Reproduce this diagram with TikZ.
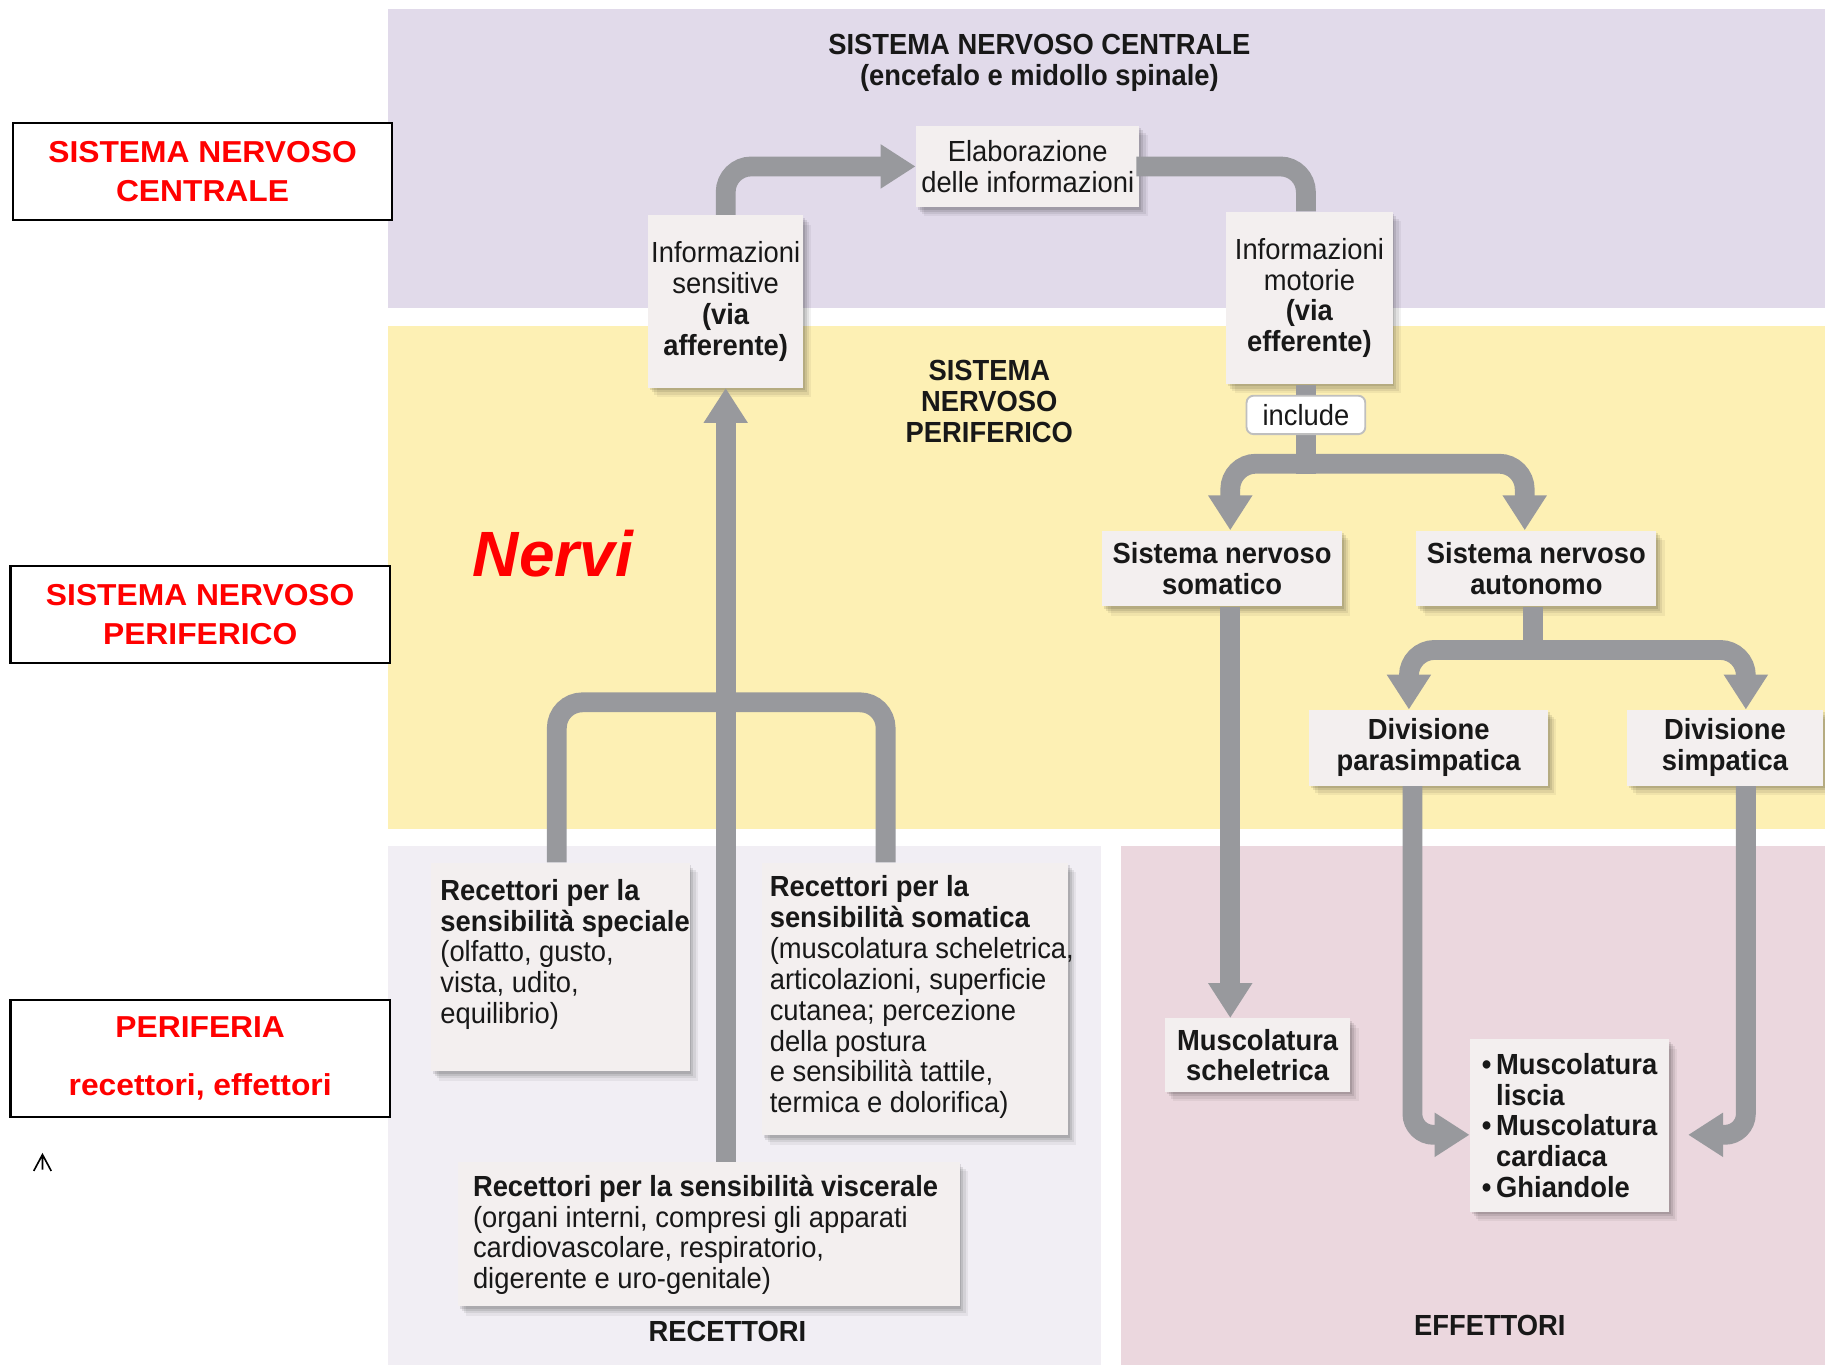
\documentclass[tikz,border=0pt]{standalone}
\usepackage{fontspec}
\setmainfont[FakeStretch=0.94]{Liberation Sans}
\newfontfamily\sidefont[FakeStretch=1.05]{Liberation Sans}
\newfontfamily\plainsans{Liberation Sans}
\usetikzlibrary{arrows.meta,shadows,calc}

\definecolor{cnsband}{RGB}{225,218,234}
\definecolor{pnsband}{RGB}{253,240,180}
\definecolor{recband}{RGB}{241,238,244}
\definecolor{effband}{RGB}{235,215,222}
\definecolor{cardfill}{RGB}{243,239,239}
\definecolor{pipegray}{RGB}{152,153,157}
\definecolor{ink}{RGB}{24,24,24}
\definecolor{alertred}{RGB}{255,0,0}

\newcommand\cardfont{\fontsize{12.5}{13.25}\selectfont}

\tikzset{
  card/.style={fill=cardfill, inner sep=0pt, align=center, text=ink, font=\cardfont,
    drop shadow={shadow xshift=3.6pt, shadow yshift=-4pt, opacity=0.05, fill=black},
    drop shadow={shadow xshift=2.6pt, shadow yshift=-3pt, opacity=0.07, fill=black},
    drop shadow={shadow xshift=1.6pt, shadow yshift=-2pt, opacity=0.09, fill=black},
    drop shadow={shadow xshift=0.8pt, shadow yshift=-1pt, opacity=0.10, fill=black}},
  boldcard/.style={card, font=\cardfont\bfseries},
  cardtext/.style={anchor=north west, inner sep=0pt, align=left, text=ink, font=\cardfont},
  tag/.style={fill=white, draw=black!25, line width=0.8pt, rounded corners=3pt,
    inner sep=0pt, minimum width=51pt, minimum height=16.5pt, text=ink, font=\cardfont},
  heading/.style={inner sep=0pt, align=center, text=ink, font=\cardfont\bfseries},
  sidebox/.style={draw=black, line width=0.9pt, fill=white, inner sep=0pt, align=center,
    text=alertred, font=\sidefont\bfseries\fontsize{13}{16.5}\selectfont},
  conduit/.style={draw=pipegray, line width=8.5pt, rounded corners=11pt},
  conduitarrow/.style={conduit, -{Triangle[width=18pt,length=15pt]}},
}

\begin{document}
\begin{tikzpicture}[x={(0.5pt,0)}, y={(0,-0.5pt)}]
\useasboundingbox (0,0) rectangle (1568,1173);
\fill[white] (0,0) rectangle (1568,1173);

% background bands
\fill[cnsband] (333,8) rectangle (1568,265);
\fill[pnsband] (333,280) rectangle (1568,712);
\fill[recband] (333,727) rectangle (946,1173);
\fill[effband] (963,727) rectangle (1568,1173);

% nodes of the flow
\node[card, minimum width=96pt, minimum height=35pt] (elab) at (883,143)
  {Elaborazione\\delle informazioni};
\node[card, minimum width=66.5pt, minimum height=74pt] (sens) at (623.5,259)
  {Informazioni\\sensitive\\\textbf{(via}\\\textbf{afferente)}};
\node[card, minimum width=71.5pt, minimum height=74pt] (mot) at (1125,256)
  {Informazioni\\motorie\\\textbf{(via}\\\textbf{efferente)}};
\node[boldcard, minimum width=103pt, minimum height=32.5pt] (som) at (1050,488.5)
  {Sistema nervoso\\somatico};
\node[boldcard, minimum width=103pt, minimum height=32.5pt] (aut) at (1320,488.5)
  {Sistema nervoso\\autonomo};
\node[boldcard, minimum width=102.5pt, minimum height=32.5pt] (para) at (1227.5,642.5)
  {Divisione\\parasimpatica};
\node[boldcard, minimum width=84pt, minimum height=32.5pt] (simp) at (1482,642.5)
  {Divisione\\simpatica};
\node[boldcard, minimum width=79.5pt, minimum height=31.5pt] (musc) at (1080.5,906.5)
  {Muscolatura\\scheletrica};
\node[boldcard, align=left, minimum width=85.5pt, minimum height=74pt] (effl) at (1348.5,967)
  {\textbullet\,Muscolatura\\\phantom{\textbullet\,}liscia\\\textbullet\,Muscolatura\\\phantom{\textbullet\,}cardiaca\\\textbullet\,Ghiandole};

% receptor boxes
\node[card, anchor=north west, minimum width=111pt, minimum height=89.5pt] (spec) at (370,741) {};
\node[card, anchor=north west, minimum width=131.5pt, minimum height=117pt] (soma) at (654,741) {};
\node[card, anchor=north west, minimum width=215.5pt, minimum height=62pt] (visc) at (393,998) {};

% connectors: afferent side
\draw[conduitarrow] (sens.north) |- (elab.west);
\draw[conduitarrow] (sens.south |- visc.north) -- (sens.south);
\coordinate (rj) at ($(sens.south)+(0,270)$);
\draw[conduit] (rj) -| ([xshift=-1.5pt]spec.north);
\draw[conduit] (rj) -| ([xshift=-12.5pt]soma.north);

% connectors: efferent side
\draw[conduit] ([xshift=-1.5pt]elab.east) -| ([xshift=-1.5pt]mot.north);
\coordinate (mj) at ($([xshift=-1.5pt]mot.south)+(0,68)$);
\draw[conduit] ([xshift=-1.5pt]mot.south) -- ([yshift=-4.25pt]mj);
\draw[conduitarrow] (mj) -| ([xshift=3.5pt]som.north);
\draw[conduitarrow] (mj) -| ([xshift=-5pt]aut.north);
\draw[conduitarrow] ([xshift=3.5pt]som.south) -- ([xshift=3.5pt]som.south |- musc.north);
\coordinate (aj) at ($([xshift=-1.5pt]aut.south)+(0,37)$);
\draw[conduit] ([xshift=-1.5pt]aut.south) -- ([yshift=-4.25pt]aj);
\draw[conduitarrow] (aj) -| ([xshift=-8.5pt]para.north);
\draw[conduitarrow] (aj) -| ([xshift=9pt]simp.north);
\draw[conduitarrow, rounded corners=9pt] ([xshift=-7pt]para.south) |- ([yshift=-4pt]effl.west);
\draw[conduitarrow, rounded corners=9pt] ([xshift=9pt]simp.south) |- ([xshift=8pt,yshift=-4pt]effl.east);

\node[tag] (incl) at (1122,356.5) {include};

% texts of the receptor boxes
\node[cardtext] (spectxt) at (378,755)
  {\textbf{Recettori per la}\\\textbf{sensibilità speciale}\\(olfatto, gusto,\\vista, udito,\\equilibrio)};
\node[cardtext] (somatxt) at (661,752)
  {\textbf{Recettori per la}\\\textbf{sensibilità somatica}\\(muscolatura scheletrica,\\articolazioni, superficie\\cutanea; percezione\\della postura\\e sensibilità tattile,\\termica e dolorifica)};
\node[cardtext] (visctxt) at (406,1009)
  {\textbf{Recettori per la sensibilità viscerale}\\(organi interni, compresi gli apparati\\cardiovascolare, respiratorio,\\digerente e uro-genitale)};

% band headings
\node[heading] (cnstitle) at (893,54) {SISTEMA NERVOSO CENTRALE\\(encefalo e midollo spinale)};
\node[heading] (pnstitle) at (850,345) {SISTEMA\\NERVOSO\\PERIFERICO};
\node[heading] (rectitle) at (625,1144) {RECETTORI};
\node[heading] (efftitle) at (1280,1139) {EFFETTORI};

\node[text=alertred, inner sep=0pt, font=\plainsans\bfseries\itshape\fontsize{27.5}{30}\selectfont] (nervi) at (475,476) {Nervi};

% level labels on the left
\node[sidebox, minimum width=163pt, minimum height=41.5pt] (lcns) at (174,147.5) {SISTEMA NERVOSO\\CENTRALE};
\node[sidebox, minimum width=163pt, minimum height=42pt] (lpns) at (172,528) {SISTEMA NERVOSO\\PERIFERICO};
\node[sidebox, minimum width=163pt, minimum height=50.5pt] (lper) at (172,909.5) {PERIFERIA\\[8.5pt]recettori, effettori};

% small mark below the labels
\draw[line width=0.7pt, black] (29,1006) -- (36.5,992) -- (44,1006) (36.5,994) -- (36.5,1005);
\end{tikzpicture}
\end{document}
